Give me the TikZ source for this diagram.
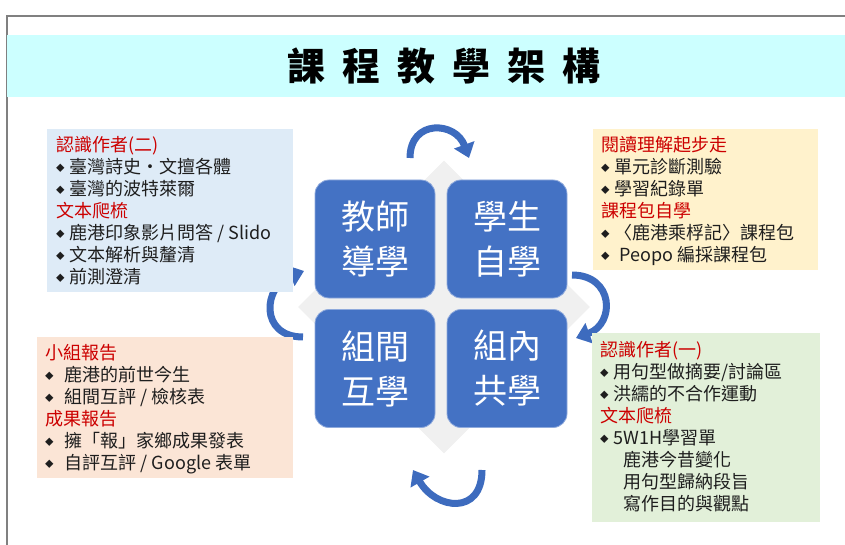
\documentclass[tikz,border=0pt]{standalone}
\usepackage{fontspec}
\setmainfont{Noto Sans CJK TC}
\usepackage{tikz}
\definecolor{titlecyan}{RGB}{204,255,255}
\definecolor{framegray}{RGB}{128,128,128}
\definecolor{hubgray}{RGB}{240,240,240}
\definecolor{sqblue}{RGB}{68,114,196}
\definecolor{sqedge}{RGB}{143,170,220}
\definecolor{cycblue}{RGB}{61,107,190}
\definecolor{hdred}{RGB}{204,0,0}
\definecolor{txtgray}{RGB}{30,30,30}
\definecolor{cbblue}{RGB}{222,235,247}
\definecolor{cbyellow}{RGB}{255,242,204}
\definecolor{cbpeach}{RGB}{251,229,214}
\definecolor{cbgreen}{RGB}{226,240,217}
\usetikzlibrary{positioning}
\usetikzlibrary{shapes.geometric}
\usetikzlibrary{arrows.meta}
\newcommand{\bul}{\raisebox{2pt}{\fontsize{8.5}{8}\selectfont ◆}\hspace{5pt}}
\newcommand{\hd}[1]{\textcolor{hdred}{#1}}

\begin{document}
\begin{tikzpicture}[
square/.style={rounded corners=14pt, fill=sqblue, draw=sqedge, line width=0.8pt, minimum width=120pt, minimum height=118pt, text=white, align=center, font=\fontsize{34}{45}\selectfont},
card/.style={anchor=north west, inner sep=0pt},
cardtext/.style={inner sep=0pt, align=left, text=txtgray, font=\fontsize{18}{22}\selectfont},
cyc/.style={draw=cycblue, line width=7pt, -{Triangle[length=14pt, width=21pt]}}
]
\useasboundingbox (0pt,0pt) rectangle (845pt,-545pt);
\draw [framegray, line width=1.5pt] (7pt,-545pt) -- (7pt,-16pt) -- (845pt,-16pt);

% title
\node (band) [card, fill=titlecyan, minimum width=838pt, minimum height=62pt] at (7pt,-35pt) {};
\node (title) at (444pt,-66pt) {\fontsize{38}{40}\selectfont\bfseries 課\hspace{17pt}程\hspace{17pt}教\hspace{17pt}學\hspace{17pt}架\hspace{17pt}構};

% centre
\node (hub) [diamond, fill=hubgray, inner sep=0pt, minimum width=292pt, minimum height=293pt] at (444pt,-307pt) {};
\node (teach) [square] at (375pt,-239pt) {教師\\導學};
\node (self) [square] at (507pt,-239pt) {學生\\自學};
\node (peer) [square] at (375pt,-368.5pt) {組間\\互學};
\node (group) [square] at (507pt,-368.5pt) {組內\\共學};

\coordinate (ta) at (410pt,-158pt);
\coordinate (tb) at (469pt,-158pt);
\coordinate (ra) at (572pt,-275pt);
\coordinate (rb) at (576pt,-338pt);
\coordinate (ba) at (482pt,-470pt);
\coordinate (bb) at (413pt,-470pt);
\coordinate (la) at (303pt,-337pt);
\coordinate (lb) at (304pt,-271pt);
\draw [cyc] (ta) to[out=90, in=110, looseness=1.7] (tb);
\draw [cyc] (ra) to[out=0, in=20, looseness=1.7] (rb);
\draw [cyc] (ba) to[out=-90, in=-60, looseness=1.7] (bb);
\draw [cyc] (la) to[out=180, in=200, looseness=1.7] (lb);

% cards
\node (tl) [card, fill=cbblue, minimum width=246pt, minimum height=163pt] at (47pt,-129pt) {};
\node (tltext) [cardtext, below right=7pt and 9pt of tl.north west] {\hd{認識作者(二)}\\
\bul 臺灣詩史‧文擅各體\\
\bul 臺灣的波特萊爾\\
\hd{文本爬梳}\\
\bul 鹿港印象影片問答 / Slido\\
\bul 文本解析與釐清\\
\bul 前測澄清};

\node (tr) [card, fill=cbyellow, minimum width=225pt, minimum height=141pt] at (593pt,-129pt) {};
\node (trtext) [cardtext, below right=7pt and 8pt of tr.north west] {\hd{閱讀理解起步走}\\
\bul 單元診斷測驗\\
\bul 學習紀錄單\\
\hd{課程包自學}\\
\bul 〈鹿港乘桴記〉課程包\\
\bul \hspace*{5pt}Peopo 編採課程包};

\node (bl) [card, fill=cbpeach, minimum width=256pt, minimum height=141pt] at (37pt,-337pt) {};
\node (bltext) [cardtext, below right=7pt and 8pt of bl.north west] {\hd{小組報告}\\
\bul \hspace*{6pt}鹿港的前世今生\\
\bul \hspace*{6pt}組間互評 / 檢核表\\
\hd{成果報告}\\
\bul \hspace*{6pt}擁「報」家鄉成果發表\\
\bul \hspace*{6pt}自評互評 / Google 表單};

\node (br) [card, fill=cbgreen, minimum width=228pt, minimum height=189pt] at (592pt,-333pt) {};
\node (brtext) [cardtext, below right=8pt and 8pt of br.north west] {\hd{認識作者(一)}\\
\bul 用句型做摘要/討論區\\
\bul 洪繻的不合作運動\\
\hd{文本爬梳}\\
\bul 5W1H學習單\\
\hspace*{23pt}鹿港今昔變化\\
\hspace*{23pt}用句型歸納段旨\\
\hspace*{23pt}寫作目的與觀點};
\end{tikzpicture}
\end{document}
